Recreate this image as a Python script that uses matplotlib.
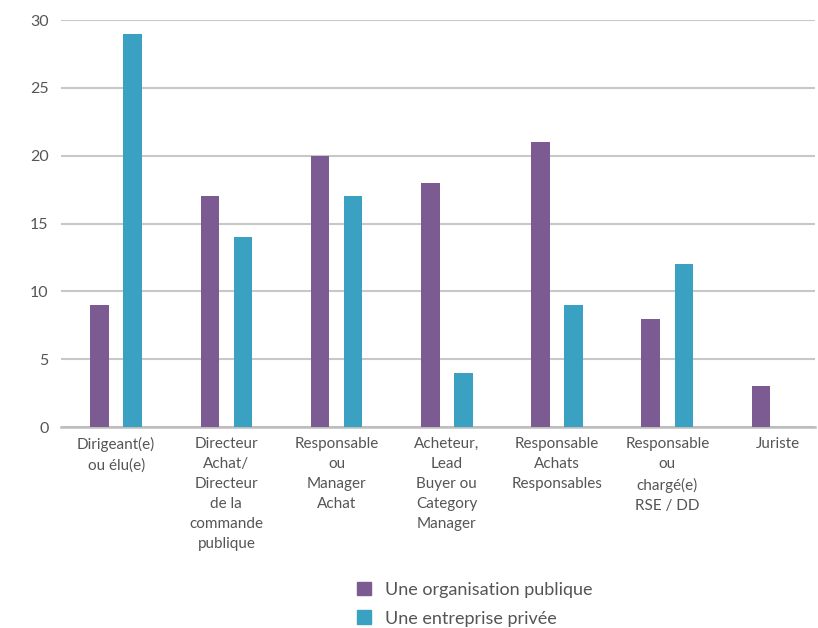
import numpy as np
import matplotlib.pyplot as plt
from matplotlib.patches import Patch

# categories and values
categories = ['Dirigeant(e)\nou élu(e)',
              'Directeur\nAchat/\nDirecteur\nde la\ncommande\npublique',
              'Responsable\nou\nManager\nAchat',
              'Acheteur,\nLead\nBuyer ou\nCategory\nManager',
              'Responsable\nAchats\nResponsables',
              'Responsable\nou\nchargé(e)\nRSE / DD',
              'Juriste']
publique = [9, 17, 20, 18, 21, 8, 3]
privee = [29, 14, 17, 4, 9, 12, 0]
series_names = ['Une organisation publique', 'Une entreprise privée']
y_ticks = [0, 5, 10, 15, 20, 25, 30]

purple = '#7C5B92'
blue = '#3BA1C2'
text_col = '#555555'

plt.rcParams['font.family'] = ['Lato', 'DejaVu Sans']

fig = plt.figure(figsize=(8.18, 6.28), dpi=100)
ax = fig.add_axes([0.0746, 0.320, 0.9217, 0.648])

x = np.arange(len(categories))
w = 0.168
ax.bar(x - 0.15, publique, width=w, color=purple, zorder=3)
ax.bar(x + 0.15, privee, width=w, color=blue, zorder=3)

ax.set_xlim(-0.5, 6.34)
ax.set_ylim(0, 30)
ax.set_yticks(y_ticks)
ax.set_xticks(x)
ax.set_xticklabels(categories, fontsize=11, color=text_col, linespacing=1.55)
ax.tick_params(axis='y', labelsize=11.5, labelcolor=text_col, length=0, pad=9)
ax.tick_params(axis='x', length=0, pad=7)

ax.grid(axis='y', color='#c8c8c8', linewidth=1.5, zorder=0)
for s in ['top', 'right', 'left']:
    ax.spines[s].set_visible(False)
ax.spines['bottom'].set_color('#bdbdbd')
ax.spines['bottom'].set_linewidth(1.8)

handles = [Patch(color=purple), Patch(color=blue)]
fig.legend(handles, series_names, loc='upper left',
           bbox_to_anchor=(0.436, 0.074), frameon=False,
           fontsize=13, labelcolor=text_col,
           handlelength=0.8, handleheight=0.8, handletextpad=0.75,
           labelspacing=0.7, borderaxespad=0, borderpad=0)

fig.savefig('out.png', dpi=100)
